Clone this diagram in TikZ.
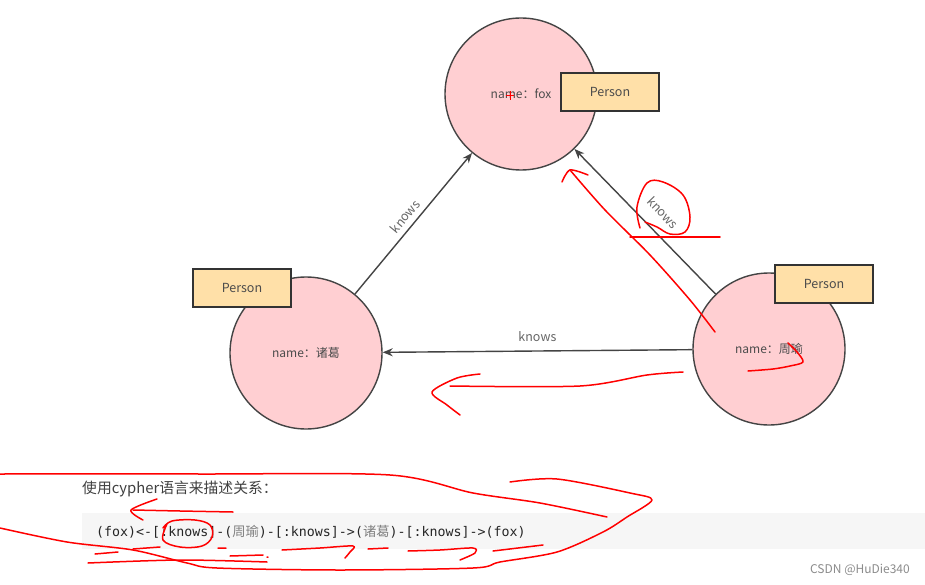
\documentclass[tikz,border=0pt]{standalone}
\usepackage{fontspec}
\setmainfont{Noto Sans CJK SC}
\newfontfamily\codefont{DejaVu Sans Mono}
\newfontfamily\cjk{Noto Sans CJK SC}
\usetikzlibrary{arrows.meta, positioning}
\definecolor{nodepink}{RGB}{255,207,210}
\definecolor{tagpeach}{RGB}{255,224,168}
\definecolor{edgegray}{RGB}{68,68,68}
\definecolor{codebg}{RGB}{246,246,246}
\tikzset{
  person/.style={circle, draw=edgegray, fill=nodepink, line width=1.4pt, minimum size=152pt, inner sep=0pt, font=\fontsize{12}{14}\selectfont, text=black!70},
  tag/.style={draw=black!80, fill=tagpeach, line width=1.2pt, minimum width=98pt, minimum height=38pt, inner sep=0pt, font=\fontsize{12.5}{14}\selectfont, text=black!70},
  knows/.style={draw=edgegray, line width=1.4pt, -{Stealth[length=10pt,width=8pt]}},
  rel/.style={font=\fontsize{12.5}{14}\selectfont, text=black!60},
  scribble/.style={red, line width=1.5pt, line cap=round, line join=round}
}

\begin{document}
\begin{tikzpicture}[x=1pt, y=-1pt]
    \useasboundingbox[fill=white] (0,0) rectangle (925,585);
    \node[person] (fox) at (521,94) {name：fox};
    \node[person] (zhuge) at (306,353) {name：诸葛};
    \node[person] (zhouyu) at (769,349) {name：周瑜};
    \draw[knows] (zhuge) -- (fox) node[rel, midway, sloped, above=2pt] {knows};
    \draw[knows] (zhouyu) -- (fox) node[rel, pos=0.47, sloped, above=10pt] {knows};
    \draw[knows] (zhouyu) -- (zhuge) node[rel, midway, sloped, above=5pt] {knows};
    \node[tag] (foxtag) at (610,92) {Person};
    \node[tag] (zhugetag) at (242,288) {Person};
    \node[tag] (zhouyutag) at (824,284) {Person};

    \node[anchor=west, inner sep=0pt, font=\fontsize{14.8}{17}\selectfont, text=black!75] (intro) at (82,489) {使用cypher语言来描述关系：};
    \fill[codebg] (82,513) rectangle (925,549);
    \node[anchor=west, inner sep=0pt, font=\codefont\fontsize{13.3}{15}\selectfont, text=black!85] (code) at (96,532)
        {(fox)<-[:knows]-(\textcolor{black!50}{\cjk 周瑜})-[:knows]->(\textcolor{black!50}{\cjk 诸葛})-[:knows]->(fox)};
    \node[anchor=east, inner sep=0pt, font=\fontsize{12}{14}\selectfont, text=black!45] (mark) at (910,570) {CSDN @HuDie340};

    \draw[red, line width=1pt] (506,96) -- (514,96) (510,91) -- (510,100);
    \draw[scribble] plot[smooth, tension=0.5] coordinates {(715,332) (690,300) (650,255) (605,210) (570,170)};
    \draw[scribble] plot[smooth, tension=0.5] coordinates {(562,182) (570,170) (588,175)};
    \draw[scribble] plot[smooth, tension=0.6] coordinates {(640,228) (637,207) (647,183) (663,182) (683,195) (690,217) (685,232) (670,234) (657,227) (645,222)};
    \draw[scribble] (630,237) -- (720,237);
    \draw[scribble] plot[smooth, tension=0.5] coordinates {(748,371) (773,369) (790,366) (803,362) (797,352) (788,343)};
    \draw[scribble] plot[smooth, tension=0.5] coordinates {(683,372) (647,375) (580,386) (450,386)};
    \draw[scribble] plot[smooth, tension=0.5] coordinates {(480,374) (457,378) (432,392) (447,405) (460,415)};

    \draw[scribble] plot[smooth, tension=0.5] coordinates {(0,474) (200,474) (390,475) (473,493) (540,503) (607,517)};
    \draw[scribble] plot[smooth, tension=0.5] coordinates {(510,482) (557,479) (630,493) (652,500) (627,517) (603,532) (557,552) (500,562) (473,568) (340,570) (217,568) (187,563) (133,550) (67,542) (0,528)};
    \draw[scribble] plot[smooth, tension=0.5] coordinates {(88,563) (180,560) (267,562)};
    \draw[scribble] plot[smooth, tension=0.5] coordinates {(233,512) (180,511) (133,510)};
    \draw[scribble] plot[smooth, tension=0.5] coordinates {(157,499) (131,510) (143,520)};
    \draw[scribble] plot[smooth, tension=0.6] coordinates {(167,524) (163,540) (180,547) (202,546) (212,537) (210,525) (195,520) (172,521) (163,528)};
    \draw[scribble] (95,554) -- (118,552) (133,549) -- (160,547) (218,548) -- (226,548) (230,556) -- (263,555) (267,557) -- (268,557);
    \draw[scribble] plot[smooth, tension=0.5] coordinates {(282,550) (320,548) (353,546) (350,552) (345,558)};
    \draw[scribble] (368,549) -- (388,548) (493,551) -- (543,545);
    \draw[scribble] plot[smooth, tension=0.5] coordinates {(408,551) (440,550) (473,548) (475,553) (460,560)};
\end{tikzpicture}
\end{document}
